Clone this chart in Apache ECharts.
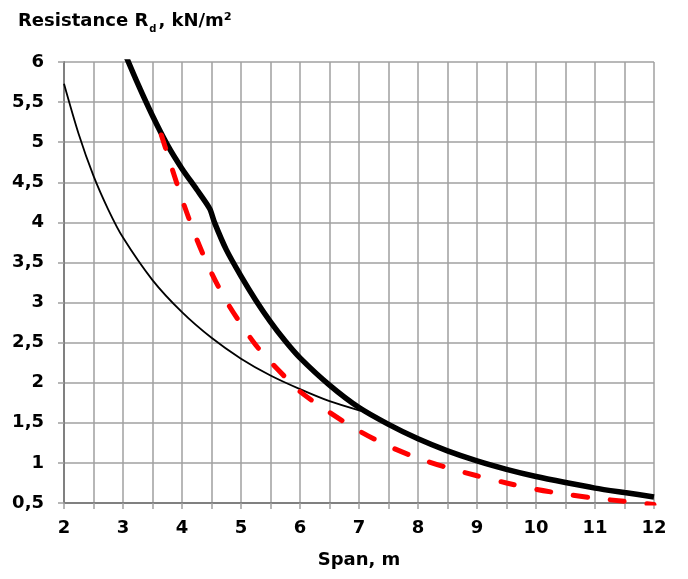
<!DOCTYPE html>
<html>
<head>
<meta charset="utf-8">
<script src="https://cdn.jsdelivr.net/npm/echarts@6/dist/echarts.min.js"></script>
<style>
html,body{margin:0;padding:0;background:#fff;}
#chart{width:688px;height:579px;}
</style>
</head>
<body>
<div id="chart"></div>
<script>
// Thin black curve
var thinX = [2, 2.25, 2.5, 2.75, 3, 3.5, 4, 4.5, 5, 5.5, 6, 6.5, 7.03];
var thinY = [5.73, 5.1, 4.58, 4.16, 3.81, 3.28, 2.88, 2.56, 2.3, 2.09, 1.92, 1.77, 1.65];
// Thick black curve
var thickX = [3.0, 3.25, 3.5, 3.75, 4, 4.25, 4.47, 4.55, 4.75, 5, 5.25, 5.5, 5.75, 6, 6.5, 7, 7.5, 8, 8.5, 9, 9.5, 10, 10.5, 11, 11.5, 12];
var thickY = [6.16, 5.73, 5.33, 4.97, 4.67, 4.41, 4.17, 4.0, 3.66, 3.33, 3.03, 2.76, 2.52, 2.31, 1.97, 1.69, 1.48, 1.30, 1.15, 1.025, 0.92, 0.83, 0.755, 0.686, 0.63, 0.576];
// Red dashed curve
var redX = [3.65, 3.75, 4, 4.25, 4.5, 4.75, 5, 5.25, 5.5, 5.75, 6, 6.5, 7, 7.5, 8, 8.5, 9, 9.5, 10, 10.5, 11, 11.5, 12];
var redY = [5.09, 4.86, 4.29, 3.79, 3.37, 3.02, 2.73, 2.47, 2.26, 2.07, 1.89, 1.63, 1.40, 1.21, 1.06, 0.94, 0.84, 0.75, 0.67, 0.61, 0.56, 0.52, 0.48];

function zip(xs, ys) { return xs.map(function (x, i) { return [x, ys[i]]; }); }

var FONT = '"DejaVu Sans"';
var FW = 'bold';
var chart = echarts.init(document.getElementById('chart'), null, {renderer: 'canvas'});
var gridColor = '#a0a0a0';
var axisColor = '#808080';
chart.setOption({
  animation: false,
  backgroundColor: '#fff',
  title: {
    left: 13, top: 7,
    text: '{a|Resistance R}{s|d}{a|, kN/m²}',
    textStyle: {
      rich: {
        a: {fontFamily: FONT, fontWeight: FW, fontSize: 18, color: '#000', lineHeight: 24, verticalAlign: 'top'},
        s: {fontFamily: FONT, fontWeight: FW, fontSize: 10, color: '#000', lineHeight: 24, verticalAlign: 'top', padding: [12, 2, 0, 1]}
      }
    }
  },
  grid: {left: 64, right: 34, top: 62, bottom: 76, containLabel: false},
  xAxis: {
    type: 'value', min: 2, max: 12, interval: 1,
    name: 'Span, m', nameLocation: 'middle', nameGap: 48,
    nameTextStyle: {fontFamily: FONT, fontWeight: FW, fontSize: 18, color: '#000'},
    axisLine: {show: true, lineStyle: {color: axisColor, width: 2}},
    axisTick: {show: true, length: 6, lineStyle: {color: gridColor, width: 1.5}},
    minorTick: {show: true, splitNumber: 2, length: 6, lineStyle: {color: gridColor, width: 1.5}},
    splitLine: {show: true, lineStyle: {color: gridColor, width: 1.5}},
    minorSplitLine: {show: true, lineStyle: {color: gridColor, width: 1.5}},
    axisLabel: {fontFamily: FONT, fontWeight: FW, fontSize: 18, color: '#000', margin: 16}
  },
  yAxis: {
    type: 'value', min: 0.5, max: 6, interval: 0.5,
    axisLine: {show: true, lineStyle: {color: axisColor, width: 2}},
    axisTick: {show: true, length: 6, lineStyle: {color: gridColor, width: 1.5}},
    splitLine: {show: true, lineStyle: {color: gridColor, width: 1.5}},
    axisLabel: {
      fontFamily: FONT, fontWeight: FW, fontSize: 18, color: '#000', margin: 20,
      formatter: function (v) { return String(v).replace('.', ','); }
    }
  },
  series: [
    {type: 'line', data: zip(thinX, thinY), showSymbol: false, smooth: 0.3,
     lineStyle: {color: '#000', width: 1.8}, z: 2},
    {type: 'line', data: zip(thickX, thickY), showSymbol: false, smooth: 0.25,
     lineStyle: {color: '#000', width: 5.5}, z: 3},
    {type: 'line', data: zip(redX, redY), showSymbol: false, smooth: 0.3,
     lineStyle: {color: '#ff0000', width: 5, type: [14, 23], cap: 'round'}, z: 4}
  ]
});
</script>
</body>
</html>
